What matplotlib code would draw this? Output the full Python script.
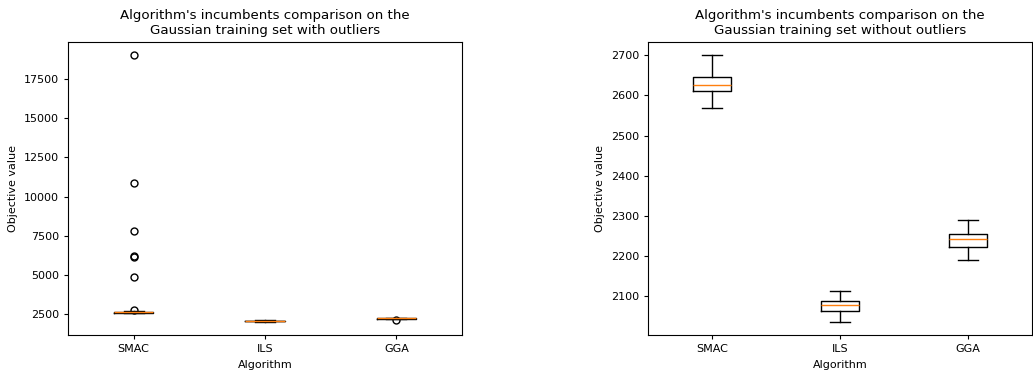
import matplotlib
matplotlib.use('Agg')
import matplotlib.pyplot as plt

# ----------------------------------------------------------------------------
# box statistics

algorithms = ['SMAC', 'ILS', 'GGA']

# with outliers
out_whislo = [2568, 2036, 2190]
out_q1 = [2610, 2062, 2223]
out_med = [2626, 2078, 2242]
out_q3 = [2647, 2088, 2255]
out_whishi = [2700, 2113, 2289]
out_fliers = [[19000, 10900, 7800, 6200, 6130, 4900, 2750], [], [2130]]

# without outliers
clean_whislo = [2568, 2036, 2190]
clean_q1 = [2610, 2062, 2223]
clean_med = [2626, 2078, 2242]
clean_q3 = [2647, 2088, 2255]
clean_whishi = [2700, 2113, 2289]

# ----------------------------------------------------------------------------
# the reference looks like a bigger figure shrunk down, so scale text/lines
plt.rcParams['font.size'] = 8
plt.rcParams['axes.titlesize'] = 9.6
plt.rcParams['axes.labelsize'] = 8
plt.rcParams['xtick.labelsize'] = 8
plt.rcParams['ytick.labelsize'] = 8
plt.rcParams['axes.linewidth'] = 0.8
plt.rcParams['xtick.major.width'] = 0.8
plt.rcParams['ytick.major.width'] = 0.8
plt.rcParams['xtick.major.size'] = 3
plt.rcParams['ytick.major.size'] = 3
plt.rcParams['boxplot.boxprops.linewidth'] = 1.0
plt.rcParams['boxplot.whiskerprops.linewidth'] = 1.0
plt.rcParams['boxplot.capprops.linewidth'] = 1.0
plt.rcParams['boxplot.medianprops.linewidth'] = 1.0
plt.rcParams['boxplot.flierprops.markersize'] = 5


def make_stats(whislo, q1, med, q3, whishi, fliers=None):
    stats = []
    for i, name in enumerate(algorithms):
        stats.append({
            'label': name,
            'whislo': whislo[i],
            'q1': q1[i],
            'med': med[i],
            'q3': q3[i],
            'whishi': whishi[i],
            'fliers': fliers[i] if fliers is not None else [],
        })
    return stats

fig = plt.figure(figsize=(10.33, 3.74), dpi=100)
ax1 = fig.add_axes([68/1033, 1-335/374, 394/1033, 293/374])
ax2 = fig.add_axes([648/1033, 1-335/374, 384/1033, 293/374])

ax1.bxp(make_stats(out_whislo, out_q1, out_med, out_q3, out_whishi, out_fliers))
ax1.set_title("Algorithm's incumbents comparison on the\nGaussian training set with outliers")
ax1.set_xlabel('Algorithm')
ax1.set_ylabel('Objective value')

ax2.bxp(make_stats(clean_whislo, clean_q1, clean_med, clean_q3, clean_whishi))
ax2.set_title("Algorithm's incumbents comparison on the\nGaussian training set without outliers")
ax2.set_xlabel('Algorithm')
ax2.set_ylabel('Objective value')

fig.savefig('out.png', dpi=100)
